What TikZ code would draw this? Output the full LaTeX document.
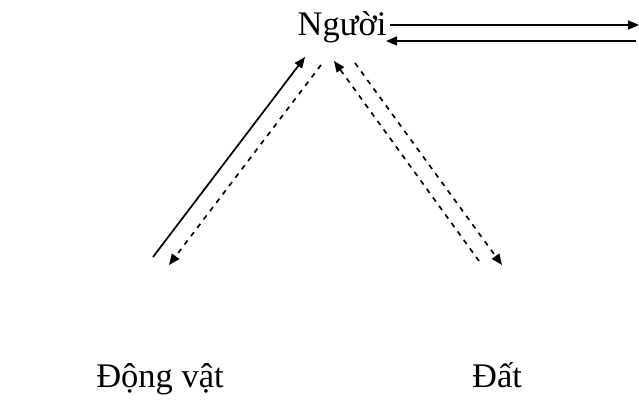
\documentclass[tikz,border=0pt]{standalone}
\usepackage{fontspec}
\setmainfont{Liberation Serif}
\usetikzlibrary{arrows.meta}
\begin{document}
\begin{tikzpicture}[x=1pt,y=-1pt,
  lbl/.style={inner sep=0pt,anchor=base,font=\fontsize{34.5}{38}\selectfont},
  solidarr/.style={line width=1.7pt,-{Triangle[length=11pt,width=9pt]}},
  dasharr/.style={line width=1.7pt,dash pattern=on 5pt off 5.5pt,-{Triangle[length=11pt,width=9pt]}}]
\useasboundingbox[fill=white] (0,0) rectangle (639,399);
\node[lbl] (nguoi) at (342,35) {Người};
\node[lbl] (dongvat) at (160,387) {Động vật};
\node[lbl] (dat) at (497,387) {Đất};
% top right arrows
\coordinate (r1s) at (390,25);
\coordinate (r1e) at (639,25);
\coordinate (r2s) at (636,41);
\coordinate (r2e) at (386,41);
\draw[solidarr] (r1s) -- (r1e);
\draw[solidarr] (r2s) -- (r2e);
% left
\coordinate (l1s) at (153,257);
\coordinate (l1e) at (305,57);
\draw[solidarr] (l1s) -- (l1e);
\coordinate (l2s) at (321,65);
\coordinate (l2e) at (169,265);
\draw[dasharr] (l2s) -- (l2e);
% right
\coordinate (q1s) at (479,261);
\coordinate (q1e) at (334,61);
\draw[dasharr] (q1s) -- (q1e);
\coordinate (q2s) at (355,63);
\coordinate (q2e) at (502,265);
\draw[dasharr] (q2s) -- (q2e);
\end{tikzpicture}
\end{document}
